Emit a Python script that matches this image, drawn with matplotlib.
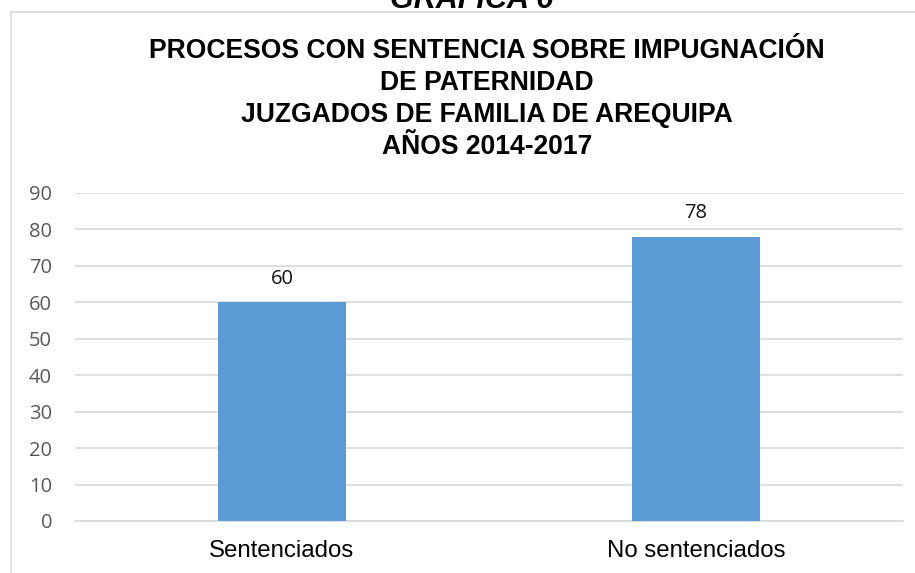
import matplotlib.pyplot as plt
from matplotlib.patches import Rectangle

categorias = ["Sentenciados", "No sentenciados"]
valores = [60, 78]
ticks_y = [0, 10, 20, 30, 40, 50, 60, 70, 80, 90]
titulo = ["PROCESOS CON SENTENCIA SOBRE IMPUGNACIÓN", "DE PATERNIDAD",
          "JUZGADOS DE FAMILIA DE AREQUIPA", "AÑOS 2014-2017"]

W, H = 915, 573
fig = plt.figure(figsize=(W / 100, H / 100), dpi=100)
fig.patch.set_facecolor("white")

# marco del grafico (borde gris claro)
fig.patches.append(Rectangle((11 / W, -0.1), 1.2, 1.1 - 12 / H,
                             transform=fig.transFigure, fill=False,
                             edgecolor="#d9d9d9", linewidth=1.2))

# titulo de la pagina, cortado arriba
fig.text(472 / W, 1 - 8 / H, "GRÁFICA 6", ha="center", va="baseline",
         fontsize=22, fontweight="bold", fontstyle="italic",
         family="Liberation Sans")

# titulo del grafico, una linea cada 32 px
for i, linea in enumerate(titulo):
    fig.text(487 / W, 1 - (58 + 32 * i) / H, linea, ha="center", va="baseline",
             fontsize=19.1, fontweight="bold", family="Liberation Sans")

ax = fig.add_axes([75 / W, 1 - 521 / H, 828 / W, 328 / H])
x = range(len(categorias))
barras = ax.bar(x, valores, width=0.31, color="#5b9bd5", zorder=3)

ax.set_xlim(-0.5, 1.5)
ax.set_ylim(0, 90)
ax.set_yticks(ticks_y)
ax.set_xticks(list(x))
ax.set_xticklabels(categorias, family="Liberation Sans", fontsize=17.3, color="black")
ax.tick_params(axis="y", length=0, pad=16.5, labelsize=14.5, labelcolor="#595959")
ax.tick_params(axis="x", length=0, pad=14)
for lbl in ax.get_yticklabels():
    lbl.set_family("Open Sans")

ax.grid(axis="y", color="#d9d9d9", linewidth=1.2, zorder=0)
for s in ["top", "right", "left"]:
    ax.spines[s].set_visible(False)
ax.spines["bottom"].set_color("#d9d9d9")
ax.spines["bottom"].set_linewidth(1.2)

for b, v in zip(barras, valores):
    ax.annotate(str(v), (b.get_x() + b.get_width() / 2, v), xytext=(0, 17),
                textcoords="offset points", ha="center", va="center",
                fontsize=14.5, family="Open Sans", color="#111111")

fig.savefig("out.png", dpi=100)
